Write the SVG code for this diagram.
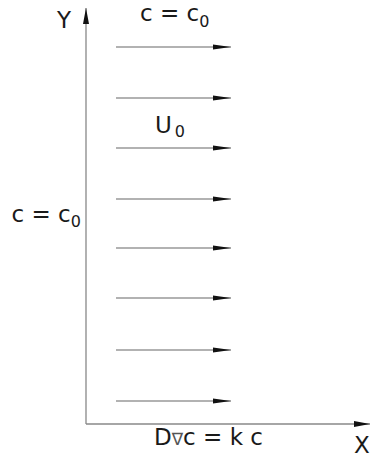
<svg xmlns="http://www.w3.org/2000/svg" width="370" height="460" viewBox="0 0 370 460">
<style>
.t{font-family:"DejaVu Sans",sans-serif;font-size:23px;fill:#1a1a1a}
.s{font-size:16px}
.ax{stroke:#888;stroke-width:1.3;fill:none}
.fl{stroke:#999;stroke-width:1.3;fill:none}
</style>
<defs>
<marker id="ah" markerWidth="18" markerHeight="6" refX="18" refY="3" orient="auto" markerUnits="userSpaceOnUse">
<path d="M0,0.5 L18,3 L0,5.5 Z" fill="#111"/>
</marker>
<marker id="axh" markerWidth="16" markerHeight="7" refX="16" refY="3.5" orient="auto" markerUnits="userSpaceOnUse">
<path d="M0,0.5 L16,3.5 L0,6.5 Z" fill="#111"/>
</marker>
</defs>
<rect width="370" height="460" fill="#fff"/>
<g id="connectors">
<line class="ax" x1="86" y1="424" x2="86" y2="8" marker-end="url(#axh)"/>
<line class="ax" x1="86" y1="424" x2="370" y2="424" marker-end="url(#axh)"/>
<line class="fl" x1="116" y1="47" x2="231" y2="47" marker-end="url(#ah)"/>
<line class="fl" x1="116" y1="98" x2="231" y2="98" marker-end="url(#ah)"/>
<line class="fl" x1="116" y1="148" x2="231" y2="148" marker-end="url(#ah)"/>
<line class="fl" x1="116" y1="199" x2="231" y2="199" marker-end="url(#ah)"/>
<line class="fl" x1="116" y1="248" x2="231" y2="248" marker-end="url(#ah)"/>
<line class="fl" x1="116" y1="298" x2="231" y2="298" marker-end="url(#ah)"/>
<line class="fl" x1="116" y1="350" x2="231" y2="350" marker-end="url(#ah)"/>
<line class="fl" x1="116" y1="401" x2="231" y2="401" marker-end="url(#ah)"/>
</g>
<g id="label-y"><text class="t" x="57" y="28">Y</text></g>
<g id="label-top"><text class="t" x="140" y="21">c = c<tspan class="s" dy="6">0</tspan></text></g>
<g id="label-u"><text class="t" x="155" y="133">U<tspan class="s" dx="3" dy="4">0</tspan></text></g>
<g id="label-left"><text class="t" x="11.5" y="222">c = c<tspan class="s" dy="5">0</tspan></text></g>
<g id="label-bottom"><text class="t" x="154" y="445">D<tspan font-size="17" fill="#555">∇</tspan>c = k c</text></g>
<g id="label-x"><text class="t" x="354" y="453">X</text></g>
</svg>
